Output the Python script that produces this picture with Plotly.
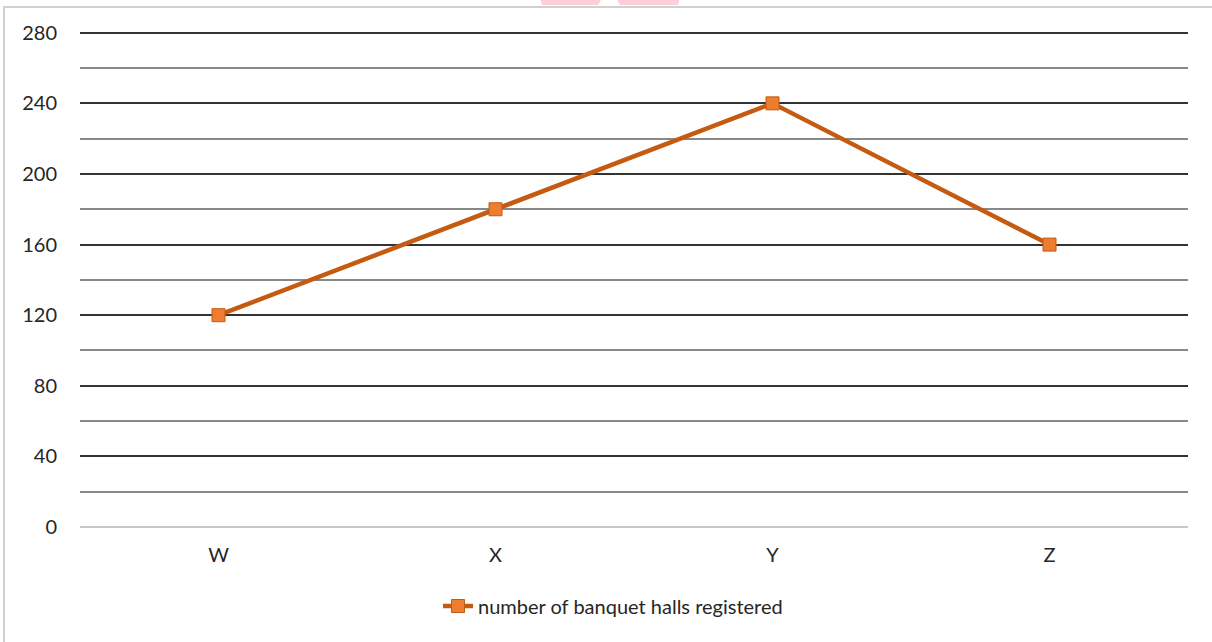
import plotly.graph_objects as go

categories = ["W", "X", "Y", "Z"]
halls = [120, 180, 240, 160]
series_name = "number of banquet halls registered"
y_ticks = [0, 40, 80, 120, 160, 200, 240, 280]

fig = go.Figure()
fig.add_trace(go.Scatter(
    x=categories, y=halls, name=series_name, mode="lines+markers",
    line=dict(color="#C55A11", width=4.5),
    marker=dict(symbol="square", size=13, color="#ED7D31", line=dict(color="#C55A11", width=1)),
))

L, R, T, B = 80, 24, 31, 115
W, H = 1212, 642
pw, ph = W - L - R, H - T - B
def px(x):
    return (x - L) / pw
def py(y):
    return (H - B - y) / ph

shapes = [
    dict(type="rect", xref="paper", yref="paper", x0=px(4), x1=px(1240), y0=py(670), y1=py(7),
         line=dict(color="#d0d0d0", width=2), fillcolor="rgba(0,0,0,0)", layer="below"),
    dict(type="path", xref="paper", yref="paper",
         path=f"M {px(540)} {py(-2)} L {px(602)} {py(-2)} L {px(598)} {py(5)} L {px(542)} {py(5)} Z",
         line=dict(width=0), fillcolor="#fcd0d6"),
    dict(type="path", xref="paper", yref="paper",
         path=f"M {px(616)} {py(-2)} L {px(680)} {py(-2)} L {px(678)} {py(5)} L {px(620)} {py(5)} Z",
         line=dict(width=0), fillcolor="#fcd0d6"),
]

fig.update_layout(
    width=W, height=H,
    margin=dict(l=L, r=R, t=T, b=B),
    paper_bgcolor="white", plot_bgcolor="white",
    font=dict(family="Lato, Open Sans, sans-serif", size=20, color="#262626"),
    xaxis=dict(range=[-0.5, 3.5], showgrid=False, zeroline=False, showline=False, ticks="",
               ticklabelstandoff=14, tickfont=dict(size=20), fixedrange=True),
    yaxis=dict(range=[0, 281], tickvals=y_ticks, showgrid=True, gridcolor="#333333", gridwidth=1.6,
               minor=dict(dtick=20, showgrid=True, gridcolor="#888888", gridwidth=1.6),
               zeroline=True, zerolinecolor="#c8c8c8", zerolinewidth=1.6,
               showline=False, ticks="", ticklabelstandoff=22, tickfont=dict(size=20), fixedrange=True),
    showlegend=True,
    legend=dict(orientation="h", x=px(613), xanchor="center", y=py(606), yanchor="middle",
                font=dict(size=20, color="#262626")),
    shapes=shapes,
)

fig.write_html("out.html", config={"displayModeBar": False},
               post_script="document.body.style.margin='0';document.body.style.padding='0';")
